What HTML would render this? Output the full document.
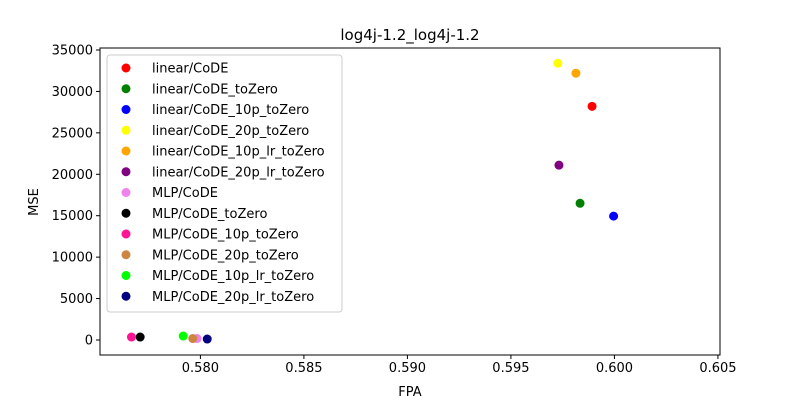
<!DOCTYPE html>
<html><head><meta charset="utf-8"><style>
body{margin:0;background:#fff;font-family:"Liberation Sans","DejaVu Sans",sans-serif}
svg text{font-family:"DejaVu Sans","Liberation Sans",sans-serif}
</style></head><body>
<svg id="c" width="800" height="400" xmlns="http://www.w3.org/2000/svg"></svg>
<script>
const labels=["linear/CoDE","linear/CoDE_toZero","linear/CoDE_10p_toZero","linear/CoDE_20p_toZero","linear/CoDE_10p_lr_toZero","linear/CoDE_20p_lr_toZero","MLP/CoDE","MLP/CoDE_toZero","MLP/CoDE_10p_toZero","MLP/CoDE_20p_toZero","MLP/CoDE_10p_lr_toZero","MLP/CoDE_20p_lr_toZero"];
const colors=["red","green","blue","yellow","orange","purple","violet","black","deeppink","peru","lime","navy"];
const fpa=[0.59892,0.59834,0.59996,0.59727,0.59814,0.59732,0.57984,0.57709,0.57667,0.57963,0.57917,0.58033];
const mse=[28200,16500,14950,33400,32200,21100,180,360,360,180,480,120];
const xTicks=[0.580,0.585,0.590,0.595,0.600,0.605];
const yTicks=[0,5000,10000,15000,20000,25000,30000,35000];
const NS="http://www.w3.org/2000/svg",svg=document.getElementById('c');
const L=100,R=720,T=48,B=355,xmin=0.57515,xmax=0.60510,ymin=-1810,ymax=35240;
const X=v=>L+(v-xmin)/(xmax-xmin)*(R-L),Y=v=>B-(v-ymin)/(ymax-ymin)*(B-T);
function mk(t,a,txt){const e=document.createElementNS(NS,t);for(const k in a)e.setAttribute(k,a[k]);if(txt!=null)e.textContent=txt;svg.appendChild(e);return e;}
let e=mk('text',{x:410,y:40,'text-anchor':'middle','font-size':15},'log4j-1.2_log4j-1.2');

xTicks.forEach(v=>{const x=X(v);mk('line',{x1:x,x2:x,y1:B,y2:B+4,stroke:'#000'});
e=mk('text',{x:x,y:B+17,'text-anchor':'middle','font-size':13},v.toFixed(3));
});
yTicks.forEach(v=>{const y=Y(v);mk('line',{x1:L-4,x2:L,y1:y,y2:y,stroke:'#000'});
e=mk('text',{x:L-7,y:y+4.5,'text-anchor':'end','font-size':13},String(v));
});
e=mk('text',{x:410,y:396,'text-anchor':'middle','font-size':13},'FPA');

e=mk('text',{x:38,y:202,'text-anchor':'middle','font-size':13,transform:'rotate(-90 38 202)'},'MSE');

fpa.forEach((v,i)=>{e=mk('circle',{cx:X(v),cy:Y(mse[i]),r:4.5,fill:colors[i]});
});
e=mk('rect',{x:L,y:T,width:R-L,height:B-T,fill:'none',stroke:'#000'});

e=mk('rect',{x:107,y:55,width:235,height:257,rx:3,fill:'#fff','fill-opacity':0.8,stroke:'#ccc'});

labels.forEach((s,i)=>{const y=68+i*20.75;mk('circle',{cx:126,cy:y,r:4.5,fill:colors[i]});
e=mk('text',{x:152,y:y+4.5,'font-size':13},s);
});
</script>
</body></html>
